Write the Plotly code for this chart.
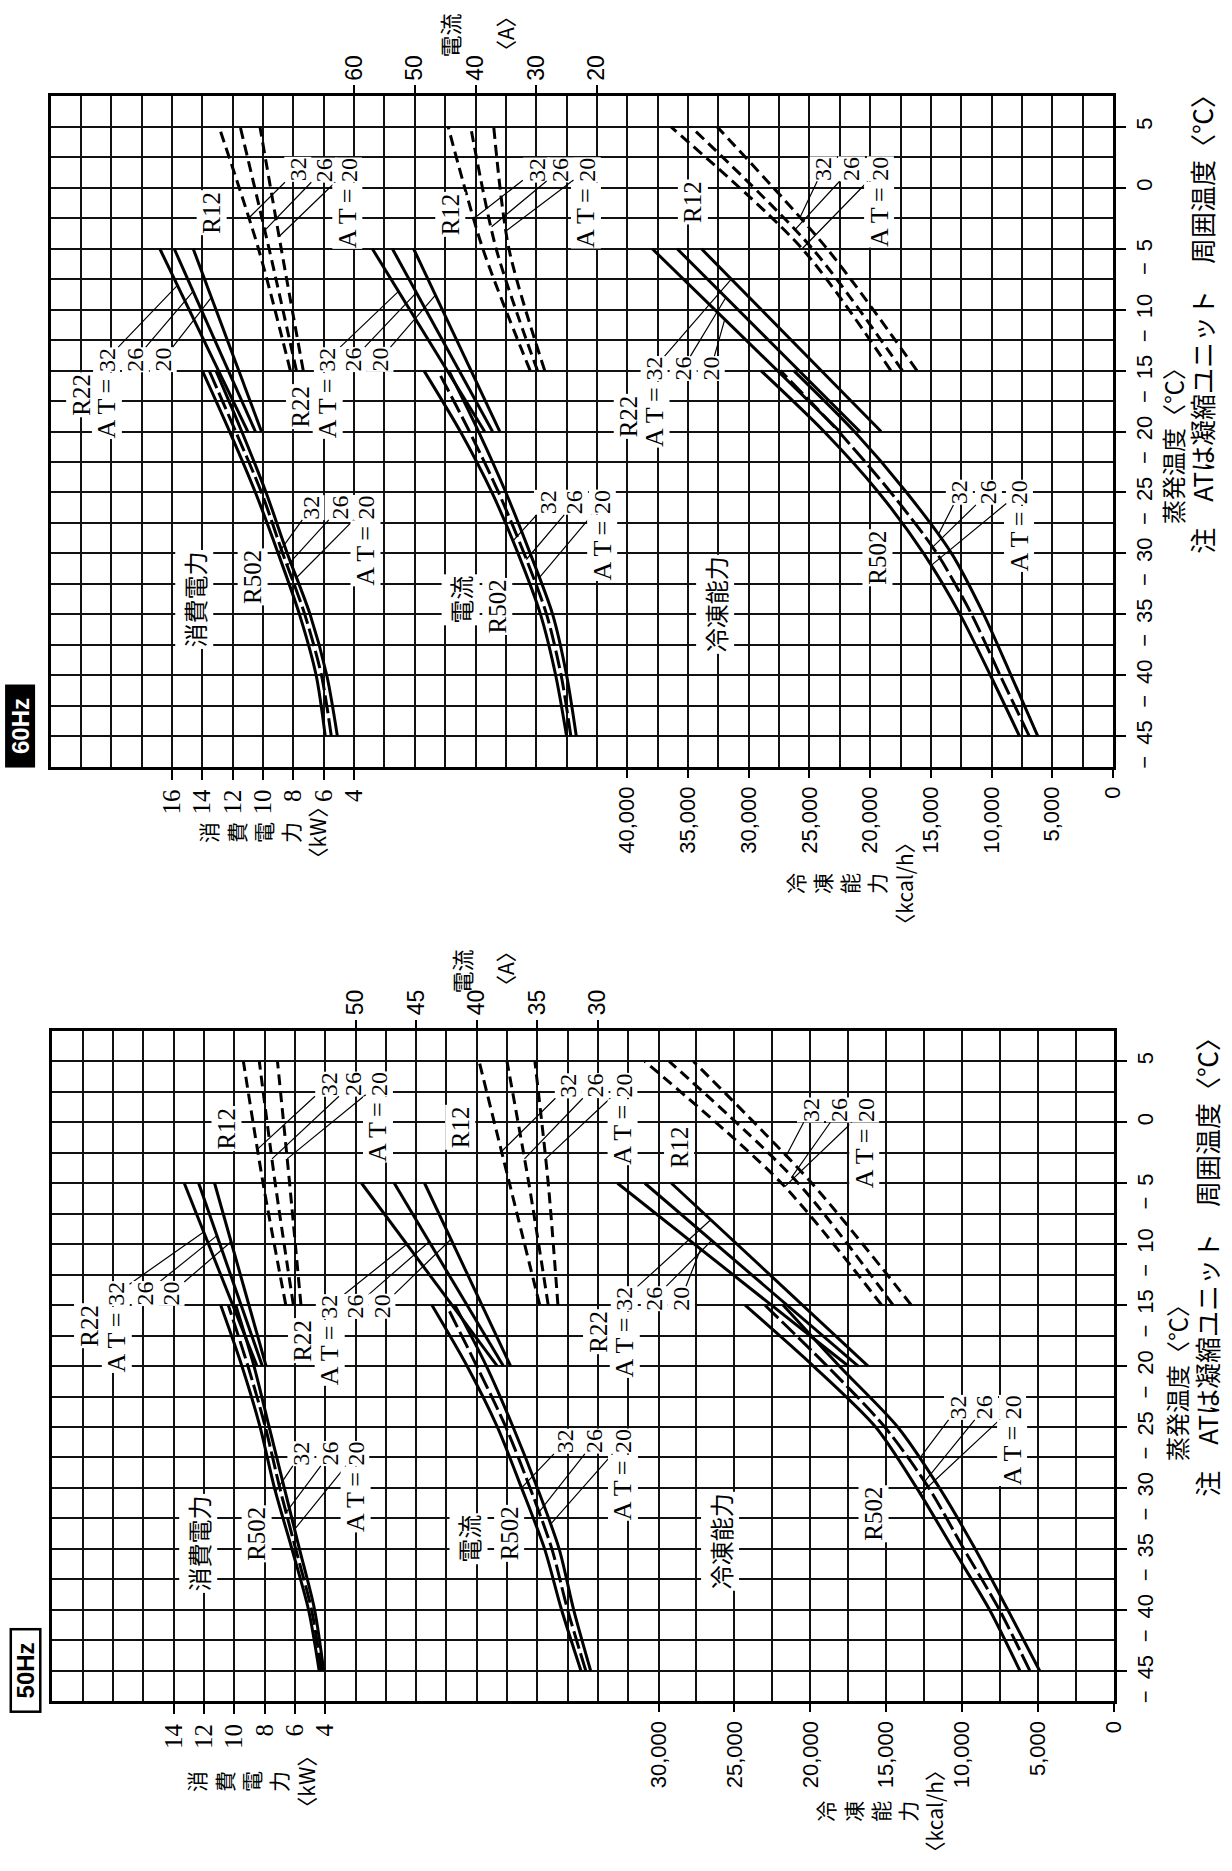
import numpy as np
import plotly.graph_objects as go

# ---------------- data ----------------
AT = [32, 26, 20]
T_R22 = [-20, -5]
T_R12 = [-15, -5, 5]
T_R502 = [-45, -40, -35, -30, -25, -20, -15]

# 60 Hz : power (kW), current (A), capacity (kcal/h)
kw60_r22 = {32: [11.0, 16.8], 26: [10.5, 15.85], 20: [10.1, 14.6]}
kw60_r12 = {32: [8.2, 10.3, 12.9], 26: [7.8, 9.6, 11.5], 20: [7.35, 8.8, 10.2]}
kw60_r502 = {32: [5.9, 6.5, 7.6, 9.0, 10.5, 12.2, 14.0],
             26: [5.5, 6.15, 7.25, 8.7, 10.1, 11.8, 13.55],
             20: [5.1, 5.8, 6.9, 8.4, 9.8, 11.4, 13.1]}
a60_r22 = {32: [38.5, 57.0], 26: [37.2, 53.7], 20: [36.0, 50.2]}
a60_r12 = {32: [31.0, 38.8, 44.5], 26: [29.8, 36.6, 40.8], 20: [28.6, 34.5, 37.0]}
a60_r502 = {32: [25.0, 26.8, 29.3, 33.0, 37.3, 42.5, 48.5],
            26: [24.3, 25.9, 28.3, 32.0, 36.2, 41.0, 46.2],
            20: [23.4, 25.0, 27.3, 31.0, 35.0, 39.5, 44.4]}
q60_r22 = {20: [22500, 37950], 26: [20850, 35900], 32: [19100, 33900]}
q60_r12 = {20: [18300, 25600, 36400], 26: [17350, 24750, 34750], 32: [16150, 23550, 32600]}
q60_r502 = {20: [7700, 10100, 12600, 15600, 19300, 23800, 29000],
            26: [6900, 9300, 11650, 14500, 18300, 22600, 27400],
            32: [6200, 8400, 10650, 13300, 17000, 21300, 26300]}

# 50 Hz
kw50_r22 = {32: [8.5, 13.3], 26: [8.15, 12.35], 20: [7.9, 11.3]}
kw50_r12 = {32: [6.6, 8.1, 9.4], 26: [6.1, 7.3, 8.35], 20: [5.6, 6.35, 7.15]}
kw50_r502 = {32: [4.4, 5.1, 6.2, 7.35, 8.3, 9.5, 10.9],
             26: [4.25, 4.9, 5.95, 7.0, 7.95, 9.1, 10.4],
             20: [4.1, 4.7, 5.7, 6.7, 7.7, 8.7, 9.9]}
a50_r22 = {32: [38.3, 49.5], 26: [37.8, 46.8], 20: [37.2, 44.3]}
a50_r12 = {32: [34.8, 37.3, 39.8], 26: [34.1, 35.7, 37.5], 20: [33.3, 34.1, 35.2]}
a50_r502 = {32: [31.4, 33.0, 34.4, 36.3, 38.3, 40.8, 43.7],
            26: [31.0, 32.5, 33.8, 35.6, 37.6, 40.0, 42.5],
            20: [30.6, 32.0, 33.2, 35.0, 37.0, 39.2, 41.8]}
q50_r22 = {20: [17500, 32700], 26: [16850, 30900], 32: [16200, 29150]}
q50_r12 = {20: [15300, 21900, 30900], 26: [14550, 20800, 29300], 32: [13350, 19900, 27700]}
q50_r502 = {20: [6200, 8200, 10600, 13000, 15700, 19800, 24300],
            26: [5550, 7550, 9900, 12200, 15100, 18900, 23000],
            32: [4900, 7000, 9150, 11500, 14250, 18100, 21800]}

# tick labels
temp_ticks = [-45, -40, -35, -30, -25, -20, -15, -10, -5, 0, 5]
kw60_ticks = [16, 14, 12, 10, 8, 6, 4]
a60_ticks = [60, 50, 40, 30, 20]
q60_ticks = [40000, 35000, 30000, 25000, 20000, 15000, 10000, 5000, 0]
kw50_ticks = [14, 12, 10, 8, 6, 4]
a50_ticks = [50, 45, 40, 35, 30]
q50_ticks = [30000, 25000, 20000, 15000, 10000, 5000, 0]

# ---------------- layout geometry ----------------
W, H = 1232, 1871
SERIF = "Liberation Serif"
SANS = "Liberation Sans"
JP = "Noto Sans CJK JP"
T_RANGE = [-47.5, 7.5]
P60 = dict(x0=51.0, x1=1124.0, y0=96.5, y1=767.5)
P50 = dict(x0=53.0, x1=1125.0, y0=1032.0, y1=1703.0)

R60 = {'kw': [24, 24 - 2 * 35], 'a': [110, 110 - 5 * 35], 'q': [2500 * 35, 0]}
x_split50 = 665.0
wn50 = (x_split50 - P50['x0']) / 20
ww50 = (P50['x1'] - x_split50) / 12
span50 = P50['x1'] - P50['x0']
R50 = {'kw': [22, 22 - 2 * span50 / wn50], 'a': [75, 75 - 2.5 * span50 / wn50],
       'q': [2500 * span50 / ww50, 0]}


def xdom(p):
    return [p['x0'] / W, p['x1'] / W]


def ydom(p):
    return [1 - p['y1'] / H, 1 - p['y0'] / H]


def v2px(v, r, p):
    return p['x0'] + (v - r[0]) / (r[1] - r[0]) * (p['x1'] - p['x0'])


def t2py(t, p):
    return p['y0'] + (T_RANGE[1] - t) / (T_RANGE[1] - T_RANGE[0]) * (p['y1'] - p['y0'])


def tlabel(v):
    if v < 0:
        return "\u2212\u2002" + str(-v) + "\u2002\u2007"
    return str(v)


fig = go.Figure()
LW = 3.0


def add_set(xa, ya, temps, data, kind):
    for at in AT:
        dash = 'solid'
        if kind == 'R12':
            dash = '11px,6px'
        elif kind == 'R502' and at == 26:
            dash = '18px,5px'
        shape = 'spline' if len(temps) > 2 else 'linear'
        fig.add_trace(go.Scatter(
            x=data[at], y=temps, xaxis=xa, yaxis=ya, mode='lines',
            line=dict(color='black', width=LW, dash=dash, shape=shape, smoothing=0.8),
            hoverinfo='skip', showlegend=False))


# 60 Hz traces
add_set('x', 'y', T_R22, kw60_r22, 'R22')
add_set('x', 'y', T_R12, kw60_r12, 'R12')
add_set('x', 'y', T_R502, kw60_r502, 'R502')
add_set('x2', 'y', T_R22, a60_r22, 'R22')
add_set('x2', 'y', T_R12, a60_r12, 'R12')
add_set('x2', 'y', T_R502, a60_r502, 'R502')
add_set('x3', 'y', T_R22, q60_r22, 'R22')
add_set('x3', 'y', T_R12, q60_r12, 'R12')
add_set('x3', 'y', T_R502, q60_r502, 'R502')
# 50 Hz traces
add_set('x4', 'y2', T_R22, kw50_r22, 'R22')
add_set('x4', 'y2', T_R12, kw50_r12, 'R12')
add_set('x4', 'y2', T_R502, kw50_r502, 'R502')
add_set('x5', 'y2', T_R22, a50_r22, 'R22')
add_set('x5', 'y2', T_R12, a50_r12, 'R12')
add_set('x5', 'y2', T_R502, a50_r502, 'R502')
add_set('x6', 'y2', T_R22, q50_r22, 'R22')
add_set('x6', 'y2', T_R12, q50_r12, 'R12')
add_set('x6', 'y2', T_R502, q50_r502, 'R502')

GRIDW = 1.7
GRIDC = '#111111'
common_tick = dict(tickangle=-90, ticks='outside', ticklen=10, tickwidth=1.6,
                   tickcolor='black', zeroline=False, fixedrange=True, tickmode='array')


def grid_minor(vals):
    return dict(tickmode='array', tickvals=vals, showgrid=True, gridcolor=GRIDC,
                gridwidth=GRIDW, ticks='')


def yaxis_cfg(p, anchor):
    return dict(domain=ydom(p), range=T_RANGE, anchor=anchor, side='right',
                tickvals=temp_ticks, ticktext=[tlabel(v) for v in temp_ticks],
                tickfont=dict(family=SANS, size=22, color='black'),
                showgrid=True, gridcolor=GRIDC, gridwidth=GRIDW,
                minor=grid_minor([-47.5 + 2.5 * k for k in range(23)]),
                showline=True, mirror=True, linecolor='black', linewidth=2.8,
                **common_tick)


layout = dict(
    width=W, height=H, margin=dict(l=0, r=0, t=0, b=0),
    paper_bgcolor='white', plot_bgcolor='white', showlegend=False,
    xaxis=dict(domain=xdom(P60), range=R60['kw'], anchor='y', side='bottom',
               tickvals=kw60_ticks, ticktext=[str(v) for v in kw60_ticks],
               tickfont=dict(family=SERIF, size=25, color='black'),
               showgrid=True, gridcolor=GRIDC, gridwidth=GRIDW,
               minor=grid_minor([24 - 2 * k for k in range(36)]),
               showline=True, mirror=True, linecolor='black', linewidth=2.8, **common_tick),
    xaxis2=dict(overlaying='x', anchor='y', side='top', range=R60['a'],
                tickvals=a60_ticks, ticktext=[str(v) for v in a60_ticks],
                tickfont=dict(family=SANS, size=23, color='black'),
                showgrid=False, showline=False, **common_tick),
    xaxis3=dict(overlaying='x', anchor='y', side='bottom', range=R60['q'],
                tickvals=q60_ticks, ticktext=[f"{v:,}" for v in q60_ticks],
                tickfont=dict(family=SANS, size=22, color='black'),
                showgrid=False, showline=False, **common_tick),
    yaxis=yaxis_cfg(P60, 'x'),
    xaxis4=dict(domain=xdom(P50), range=R50['kw'], anchor='y2', side='bottom',
                tickvals=kw50_ticks, ticktext=[str(v) for v in kw50_ticks],
                tickfont=dict(family=SERIF, size=25, color='black'),
                showgrid=True, gridcolor=GRIDC, gridwidth=GRIDW,
                minor=grid_minor([22 - 2 * k for k in range(21)]),
                showline=True, mirror=True, linecolor='black', linewidth=2.8, **common_tick),
    xaxis5=dict(overlaying='x4', anchor='y2', side='top', range=R50['a'],
                tickvals=a50_ticks, ticktext=[str(v) for v in a50_ticks],
                tickfont=dict(family=SANS, size=23, color='black'),
                showgrid=False, showline=False, **common_tick),
    xaxis6=dict(overlaying='x4', anchor='y2', side='bottom', range=R50['q'],
                tickvals=q50_ticks, ticktext=[f"{v:,}" for v in q50_ticks],
                tickfont=dict(family=SANS, size=22, color='black'),
                showgrid=True, gridcolor=GRIDC, gridwidth=GRIDW,
                minor=grid_minor([2500 * k for k in range(13)]),
                showline=False, **common_tick),
    yaxis2=yaxis_cfg(P50, 'x4'),
)
fig.update_layout(**layout)

ANN = []


def txt(s, px, py, size=23, family=SERIF, bg='white', color='black', **kw):
    d = dict(text=s, x=px / W, y=1 - py / H, xref='paper', yref='paper', showarrow=False,
             textangle=-90, font=dict(family=family, size=size, color=color),
             xanchor='center', yanchor='middle', borderpad=1)
    if bg:
        d['bgcolor'] = bg
    d.update(kw)
    ANN.append(d)


def lead(s, px, py, xa, ya, r, p, data, at, temps, t, size=24):
    v = float(np.interp(t, temps, data[at]))
    hx = v2px(v, r, p)
    hy = t2py(t, p)
    ANN.append(dict(text=s, x=v, y=t, xref=xa, yref=ya, ax=px - hx, ay=py - hy,
                    axref='pixel', ayref='pixel', showarrow=True, arrowhead=0,
                    arrowwidth=1.2, arrowcolor='black', standoff=0, startstandoff=0,
                    textangle=-90, font=dict(family=SERIF, size=size, color='black'),
                    bgcolor='white', borderpad=0))


AT_TXT = "A\u2009T\u2009=\u2009"


def group(xa, ya, r, p, name, name_pos, temps, data, nums, at_pos, heads):
    txt(name, *name_pos, size=25)
    for (s, at, (px, py), t) in zip(["32", "26", "20"], AT, nums, heads):
        lead(s, px, py, xa, ya, r, p, data, at, temps, t)
    txt(AT_TXT, *at_pos, size=26, borderpad=0)


# ---- 60 Hz labels ----
g = ('x', 'y', R60['kw'], P60)
group(*g, "R12", (214, 213), T_R12, kw60_r12, [(300, 170), (326, 170), (351, 170)], (351, 216), [-2.5, -3.5, -4.0])
group(*g, "R22", (82, 395), T_R22, kw60_r22, [(108, 360), (137, 360), (165, 360)], (108, 406), [-8.0, -8.5, -9.0])
group(*g, "R502", (255, 578), T_R502, kw60_r502, [(314, 508), (343, 508), (369, 508)], (369, 554), [-30, -31, -32])
txt("消費電力", 196, 600, size=24, family=JP)

g = ('x2', 'y', R60['a'], P60)
group(*g, "R12", (455, 215), T_R12, a60_r12, [(541, 170), (565, 170), (592, 170)], (592, 216), [-2.5, -3.2, -3.5])
group(*g, "R22", (304, 407), T_R22, a60_r22, [(331, 360), (357, 360), (384, 360)], (331, 406), [-8.5, -8.6, -8.8])
group(*g, "R502", (502, 607), T_R502, a60_r502, [(553, 503), (580, 503), (608, 503)], (608, 549), [-29, -30.5, -32])
txt("電流", 465, 600, size=24, family=JP)

g = ('x3', 'y', R60['q'], P60)
group(*g, "R12", (700, 202), T_R12, q60_r12, [(831, 169), (859, 169), (888, 169)], (888, 215), [-2.5, -3.5, -5.0])
group(*g, "R22", (635, 417), T_R22, q60_r22, [(661, 369), (690, 369), (718, 369)], (661, 415), [-7.5, -9.0, -10.8])
group(*g, "R502", (886, 558), T_R502, q60_r502, [(969, 493), (998, 493), (1029, 493)], (1029, 539), [-28.5, -29.5, -31])
txt("冷凍能力", 722, 605, size=24, family=JP)

# ---- 50 Hz labels ----
g = ('x4', 'y2', R50['kw'], P50)
group(*g, "R12", (229, 1130), T_R12, kw50_r12, [(331, 1085), (355, 1085), (382, 1085)], (382, 1131), [-2.2, -3.0, -3.0])
group(*g, "R22", (90, 1327), T_R22, kw50_r22, [(118, 1295), (147, 1295), (173, 1295)], (118, 1341), [-9.0, -9.3, -9.8])
group(*g, "R502", (259, 1535), T_R502, kw50_r502, [(304, 1455), (333, 1455), (359, 1455)], (359, 1501), [-30.3, -32, -33.4])
txt("消費電力", 200, 1545, size=24, family=JP)

g = ('x5', 'y2', R50['a'], P50)
group(*g, "R12", (465, 1128), T_R12, a50_r12, [(573, 1087), (600, 1087), (629, 1087)], (629, 1133), [-2.4, -3.0, -3.0])
group(*g, "R22", (306, 1342), T_R22, a50_r22, [(333, 1308), (359, 1308), (386, 1308)], (333, 1354), [-10, -9.8, -9.6])
group(*g, "R502", (514, 1535), T_R502, a50_r502, [(571, 1443), (600, 1443), (629, 1443)], (629, 1489), [-30, -32, -33])
txt("電流", 473, 1540, size=24, family=JP)

g = ('x6', 'y2', R50['q'], P50)
group(*g, "R12", (686, 1148), T_R12, q50_r12, [(818, 1111), (847, 1111), (873, 1111)], (873, 1157), [-2.8, -4.5, -5.3])
group(*g, "R22", (604, 1333), T_R22, q50_r22, [(631, 1300), (661, 1300), (688, 1300)], (631, 1346), [-8.0, -9.7, -10.4])
group(*g, "R502", (882, 1515), T_R502, q50_r502, [(967, 1409), (994, 1409), (1022, 1409)], (1022, 1455), [-27.6, -29.5, -30.5])
txt("冷凍能力", 727, 1543, size=24, family=JP)

# ---- axis titles and panel tags ----
for dy in (0, 1):
    if dy == 0:
        kwt, qt, at1, at2, evt, note = (265, 833), (857, 885), (453, 36), (510, 34), (1184, 440), (1213, 318)
    else:
        kwt, qt, at1, at2, evt, note = (253, 1784), (888, 1813), (465, 972), (510, 970), (1188, 1378), (1219, 1262)
    txt("消<br>費<br>電<br>力<br>〈kW〉", *kwt, size=21, family=JP, bg=None)
    txt("冷<br>凍<br>能<br>力<br>〈kcal/h〉", *qt, size=21, family=JP, bg=None)
    txt("電流", *at1, size=22, family=JP, bg=None)
    txt("〈A〉", *at2, size=21, family=JP, bg=None)
    txt("蒸発温度〈℃〉", *evt, size=24, family=JP, bg=None)
    txt("注\u3000ATは凝縮ユニット\u3000周囲温度〈℃〉", *note, size=26, family=JP, bg=None)

txt("\u2002<b>60Hz</b>\u2002", 20, 727, size=24, family=SANS, bg='black', color='white', borderpad=1)
txt("\u2002<b>50Hz</b>\u2002", 26, 1672, size=24, family=SANS, bg='white', color='black', borderpad=0,
    bordercolor='black', borderwidth=2.5)

fig.update_layout(annotations=ANN)

fig.write_html("out.html", config={'displayModeBar': False},
               post_script="document.body.style.margin='0';document.body.style.overflow='hidden';")
